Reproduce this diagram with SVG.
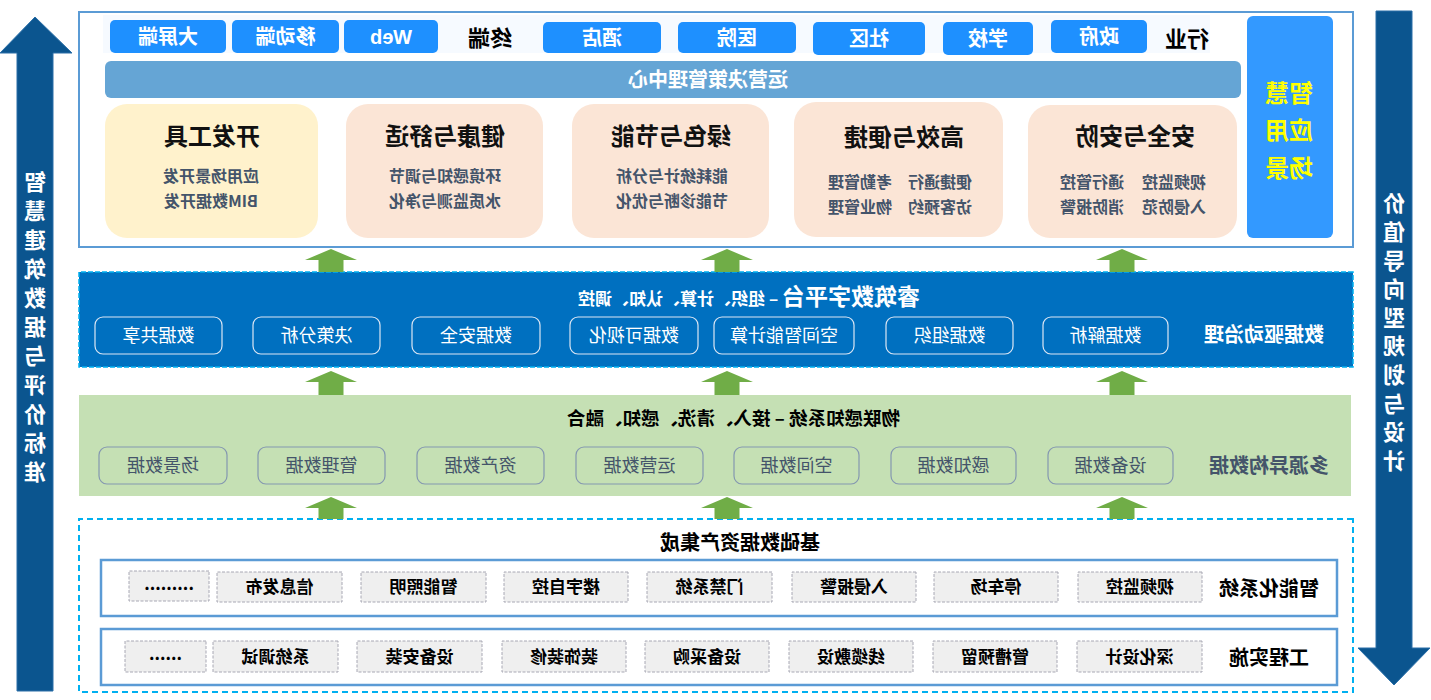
<svg xmlns="http://www.w3.org/2000/svg" width="1431" height="700" viewBox="0 0 1431 700">
<defs>
<style>
text{font-family:"Noto Sans CJK SC","Liberation Sans",sans-serif;text-anchor:middle}
.tab{fill:#1e90ff}
.tabt{fill:#fff;font-size:20px;font-weight:700}
.blk{fill:#000;font-size:22px;font-weight:700}
.card{fill:#fbe5d6}
.ct{fill:#111;font-size:24px;font-weight:700}
.ci{fill:#44546a;font-size:16px;font-weight:700}
.pb{fill:none;stroke:#dbe6f4;stroke-width:1.2}
.pbt{fill:#fff;font-size:18px}
.gb{fill:none;stroke:#8497b0;stroke-width:1.2}
.gbt{fill:#44546a;font-size:18px}
.it{fill:#efefef;stroke:#a8a8b4;stroke-width:1;stroke-dasharray:3 1.5}
.itt{fill:#000;font-size:17px;font-weight:700}
.lab{font-size:20px;font-weight:700}
.vt{fill:#fff;font-size:22px;font-weight:700;writing-mode:vertical-rl;text-anchor:start}
.ga{fill:#70ad47}
.row{fill:#fff;stroke:#5b9bd5;stroke-width:2.5}
</style>
</defs>
<rect width="1431" height="700" fill="#fff"/>
<g transform="matrix(-1 0 0 1 1431 0)">
<g id="side-arrows">
<g id="arrow-left-standard">
<polygon points="1396,17 1359,53 1378,53 1378,691 1414,691 1414,53 1431,53" fill="#0b558f" stroke="#2a6fa8" stroke-width="1"/>
<text class="vt" x="1396" y="171" style="letter-spacing:7px">智慧建筑数据与评价标准</text>
</g>
<g id="arrow-right-value">
<polygon points="19,11 55,11 55,648 73,648 37,685 1,648 19,648" fill="#0b558f" stroke="#2a6fa8" stroke-width="1"/>
<text class="vt" x="37" y="192" style="letter-spacing:6.6px">价值导向型规划与设计</text>
</g>
</g>
<g id="layer-application">
<rect x="78" y="12" width="1274" height="235" fill="#fff" stroke="#5b9bd5" stroke-width="2"/>
<rect x="221" y="15" width="1107" height="38" fill="#f6faff"/>
<g id="terminals">
<rect class="tab" x="1205" y="20" width="116" height="33" rx="5"/><text class="tabt" x="1263" y="44">大屏端</text>
<rect class="tab" x="1092" y="20" width="107" height="33" rx="5"/><text class="tabt" x="1145.5" y="44">移动端</text>
<rect class="tab" x="993" y="20" width="94" height="33" rx="5"/><text class="tabt" x="1040" y="44" style="font-family:'Liberation Sans',sans-serif">Web</text>
<text class="blk" x="941" y="46">终端</text>
</g>
<g id="industries">
<rect class="tab" x="770" y="22" width="118" height="31" rx="5"/><text class="tabt" x="829" y="45">酒店</text>
<rect class="tab" x="635" y="22" width="118" height="31" rx="5"/><text class="tabt" x="694" y="45">医院</text>
<rect class="tab" x="506" y="22" width="112" height="33" rx="5"/><text class="tabt" x="562" y="46">社区</text>
<rect class="tab" x="398" y="22" width="90" height="33" rx="5"/><text class="tabt" x="443" y="46">学校</text>
<rect class="tab" x="284" y="20" width="96" height="33" rx="5"/><text class="tabt" x="332" y="44">政府</text>
<text class="blk" x="244" y="47">行业</text>
</g>
<g id="ops-center">
<rect x="190" y="61" width="1136" height="37" rx="6" fill="#65a5d5"/>
<text x="723" y="87" style="fill:#fff;font-size:20px;font-weight:700">运营决策管理中心</text>
</g>
<g id="card-dev">
<rect x="1113" y="104" width="213" height="134" rx="22" fill="#fff2cc"/>
<text class="ct" x="1219" y="145">开发工具</text>
<text class="ci" x="1220" y="182">应用场景开发</text>
<text class="ci" x="1220" y="207">BIM数据开发</text>
</g>
<g id="card-health">
<rect class="card" x="888" y="104" width="197" height="134" rx="22"/>
<text class="ct" x="986" y="145">健康与舒适</text>
<text class="ci" x="986" y="182">环境感知与调节</text>
<text class="ci" x="986" y="207">水质监测与净化</text>
</g>
<g id="card-green">
<rect class="card" x="662" y="104" width="197" height="134" rx="22"/>
<text class="ct" x="760" y="145">绿色与节能</text>
<text class="ci" x="759" y="182">能耗统计与分析</text>
<text class="ci" x="759" y="207">节能诊断与优化</text>
</g>
<g id="card-efficiency">
<rect class="card" x="428" y="102" width="209" height="135" rx="22"/>
<text class="ct" x="527" y="146">高效与便捷</text>
<text class="ci" x="491" y="188">便捷通行</text><text class="ci" x="571" y="188">考勤管理</text>
<text class="ci" x="491" y="213">访客预约</text><text class="ci" x="571" y="213">物业管理</text>
</g>
<g id="card-safety">
<rect class="card" x="194" y="105" width="209" height="133" rx="22"/>
<text class="ct" x="296" y="145">安全与安防</text>
<text class="ci" x="257" y="188">视频监控</text><text class="ci" x="339" y="188">通行管控</text>
<text class="ci" x="257" y="213">入侵防范</text><text class="ci" x="339" y="213">消防报警</text>
</g>
<g id="smart-app-label">
<rect x="98" y="16" width="86" height="222" rx="6" fill="#3399ff"/>
<text x="142" y="102" style="fill:#ffff00;font-size:24px;font-weight:700">智慧</text>
<text x="142" y="139" style="fill:#ffff00;font-size:24px;font-weight:700">应用</text>
<text x="142" y="177" style="fill:#ffff00;font-size:24px;font-weight:700">场景</text>
</g>
</g>
<g id="layer-platform">
<rect x="78" y="272" width="1274" height="95" fill="#0070c0" stroke="#00b0f0" stroke-width="1.5" stroke-dasharray="5 2"/>
<text x="511" y="305" style="text-anchor:start;fill:#fff;font-weight:700"><tspan style="font-size:23px">睿筑数字平台</tspan><tspan style="font-size:17px"> – 组织、计算、认知、调控</tspan></text>
<rect class="pb" x="1209" y="317" width="127" height="37" rx="8"/><text class="pbt" x="1272.5" y="342">数据共享</text>
<rect class="pb" x="1051" y="317" width="127" height="37" rx="8"/><text class="pbt" x="1114.5" y="342">决策分析</text>
<rect class="pb" x="891" y="317" width="128" height="37" rx="8"/><text class="pbt" x="955" y="342">数据安全</text>
<rect class="pb" x="733" y="317" width="128" height="37" rx="8"/><text class="pbt" x="797" y="342">数据可视化</text>
<rect class="pb" x="577" y="317" width="140" height="37" rx="8"/><text class="pbt" x="647" y="342">空间智能计算</text>
<rect class="pb" x="418" y="317" width="127" height="37" rx="8"/><text class="pbt" x="481.5" y="342">数据组织</text>
<rect class="pb" x="263" y="317" width="125" height="37" rx="8"/><text class="pbt" x="325.5" y="342">数据解析</text>
<text class="lab" x="167" y="342" style="fill:#fff">数据驱动治理</text>
</g>
<g id="layer-iot">
<rect x="80" y="395" width="1272" height="101" fill="#c5e0b4"/>
<text x="531" y="425" style="text-anchor:start;fill:#000;font-size:18.5px;font-weight:700">物联感知系统 – 接入、清洗、感知、融合</text>
<rect class="gb" x="1204" y="447" width="128" height="37" rx="8"/><text class="gbt" x="1268" y="472">场景数据</text>
<rect class="gb" x="1046" y="447" width="127" height="37" rx="8"/><text class="gbt" x="1109.5" y="472">管理数据</text>
<rect class="gb" x="887" y="447" width="127" height="37" rx="8"/><text class="gbt" x="950.5" y="472">资产数据</text>
<rect class="gb" x="728" y="447" width="127" height="37" rx="8"/><text class="gbt" x="791.5" y="472">运营数据</text>
<rect class="gb" x="572" y="447" width="125" height="37" rx="8"/><text class="gbt" x="634.5" y="472">空间数据</text>
<rect class="gb" x="415" y="447" width="125" height="37" rx="8"/><text class="gbt" x="477.5" y="472">感知数据</text>
<rect class="gb" x="258" y="447" width="125" height="37" rx="8"/><text class="gbt" x="320.5" y="472">设备数据</text>
<text class="lab" x="162" y="473" style="fill:#44546a">多源异构数据</text>
</g>
<g id="layer-foundation">
<rect x="78" y="519" width="1274" height="173" fill="none" stroke="#00b0f0" stroke-width="2" stroke-dasharray="6 4"/>
<text x="691" y="550" style="fill:#000;font-size:20px;font-weight:700">基础数据资产集成</text>
<g id="row-smart-systems">
<rect class="row" x="94" y="560" width="1236" height="56"/>
<rect class="it" x="1222" y="571" width="80" height="30"/><text class="itt" x="1262" y="590">.........</text>
<rect class="it" x="1089" y="572" width="125" height="30"/><text class="itt" x="1151.5" y="593">信息发布</text>
<rect class="it" x="945" y="572" width="125" height="30"/><text class="itt" x="1007.5" y="593">智能照明</text>
<rect class="it" x="803" y="572" width="124" height="30"/><text class="itt" x="865" y="593">楼宇自控</text>
<rect class="it" x="659" y="572" width="125" height="30"/><text class="itt" x="721.5" y="593">门禁系统</text>
<rect class="it" x="515" y="572" width="124" height="30"/><text class="itt" x="577" y="593">入侵报警</text>
<rect class="it" x="373" y="572" width="124" height="30"/><text class="itt" x="435" y="593">停车场</text>
<rect class="it" x="229" y="572" width="124" height="30"/><text class="itt" x="291" y="593">视频监控</text>
<text class="lab" x="162" y="596" style="fill:#000">智能化系统</text>
</g>
<g id="row-engineering">
<rect class="row" x="94" y="629" width="1236" height="56"/>
<rect class="it" x="1225" y="641" width="81" height="31"/><text class="itt" x="1265.5" y="660">......</text>
<rect class="it" x="1093" y="641" width="125" height="31"/><text class="itt" x="1155.5" y="663">系统调试</text>
<rect class="it" x="949" y="641" width="125" height="31"/><text class="itt" x="1011.5" y="663">设备安装</text>
<rect class="it" x="805" y="641" width="124" height="31"/><text class="itt" x="867" y="663">装饰装修</text>
<rect class="it" x="662" y="641" width="124" height="31"/><text class="itt" x="724" y="663">设备采购</text>
<rect class="it" x="518" y="641" width="124" height="31"/><text class="itt" x="580" y="663">线缆敷设</text>
<rect class="it" x="374" y="641" width="124" height="31"/><text class="itt" x="436" y="663">管槽预留</text>
<rect class="it" x="229" y="641" width="125" height="31"/><text class="itt" x="291.5" y="663">深化设计</text>
<text class="lab" x="162" y="665" style="fill:#000">工程实施</text>
</g>
</g>
<g id="connectors">
<polygon class="ga" points="1100,249 1126,260 1112.5,260 1112.5,272 1087.5,272 1087.5,260 1074,260"/>
<polygon class="ga" points="704,249 730,260 716.5,260 716.5,272 691.5,272 691.5,260 678,260"/>
<polygon class="ga" points="309,249 335,260 321.5,260 321.5,272 296.5,272 296.5,260 283,260"/>
<polygon class="ga" points="1100,371 1126,382 1112.5,382 1112.5,395 1087.5,395 1087.5,382 1074,382"/>
<polygon class="ga" points="704,371 730,382 716.5,382 716.5,395 691.5,395 691.5,382 678,382"/>
<polygon class="ga" points="309,371 335,382 321.5,382 321.5,395 296.5,395 296.5,382 283,382"/>
<polygon class="ga" points="1100,497 1126,508 1112.5,508 1112.5,519 1087.5,519 1087.5,508 1074,508"/>
<polygon class="ga" points="704,497 730,508 716.5,508 716.5,519 691.5,519 691.5,508 678,508"/>
<polygon class="ga" points="309,497 335,508 321.5,508 321.5,519 296.5,519 296.5,508 283,508"/>
</g>
</g>
</svg>
